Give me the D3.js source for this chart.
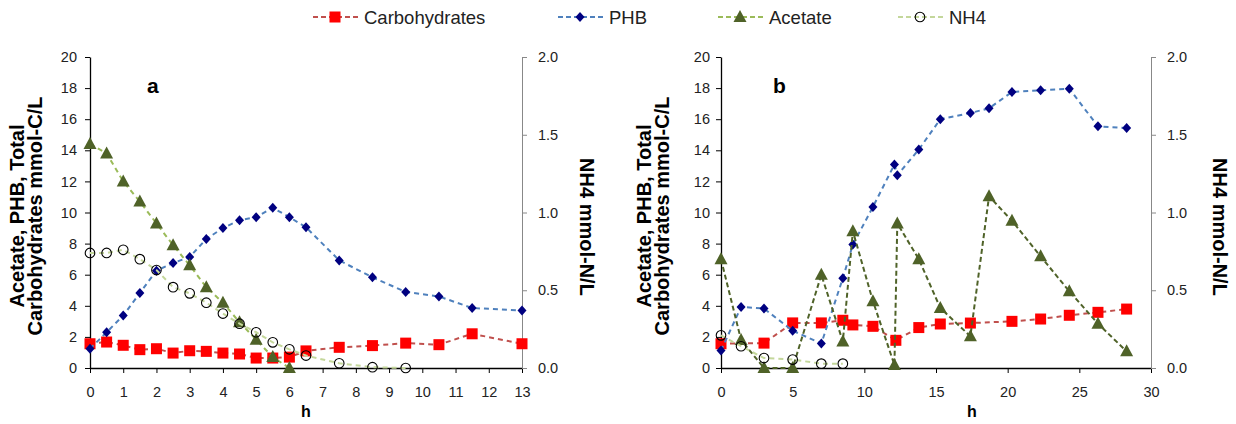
<!DOCTYPE html>
<html>
<head>
<meta charset="utf-8">
<script src="https://cdn.jsdelivr.net/npm/d3@7"></script>
<style>
  body { margin: 0; background: #fff; }
  svg { font-family: "Liberation Sans", Arial, sans-serif; }
</style>
</head>
<body>
<div id="chart"></div>
<script>
// series names for the legend
const seriesNames = ["Carbohydrates", "PHB", "Acetate", "NH4"]

// panel a, hours
const aCarbX = [0, 0.5, 1, 1.5, 2, 2.5, 3, 3.5, 4, 4.5, 5, 5.5, 6, 6.5, 7.5, 8.5, 9.5, 10.5, 11.5, 13]
const aCarbY = [1.56, 1.67, 1.46, 1.18, 1.24, 0.96, 1.11, 1.07, 0.96, 0.9, 0.64, 0.64, 0.7, 1.1, 1.33, 1.44, 1.6, 1.5, 2.2, 1.56]
const aPhbX = [0, 0.5, 1, 1.5, 2, 2.5, 3, 3.5, 4, 4.5, 5, 5.5, 6, 6.5, 7.5, 8.5, 9.5, 10.5, 11.5, 13]
const aPhbY = [1.24, 2.3, 3.37, 4.82, 6.26, 6.75, 7.14, 8.3, 9.0, 9.5, 9.7, 10.3, 9.7, 9.05, 6.92, 5.83, 4.89, 4.6, 3.86, 3.69]
const aAcX = [0, 0.5, 1, 1.5, 2, 2.5, 3, 3.5, 4, 4.5, 5, 5.5, 6]
const aAcY = [14.4, 13.8, 12.0, 10.7, 9.3, 7.9, 6.6, 5.2, 4.2, 2.94, 1.82, 0.7, 0]
const aNh4X = [0, 0.5, 1, 1.5, 2, 2.5, 3, 3.5, 4, 4.5, 5, 5.5, 6, 6.5, 7.5, 8.5, 9.5]
const aNh4Y = [0.74, 0.74, 0.76, 0.70, 0.63, 0.52, 0.48, 0.42, 0.35, 0.285, 0.23, 0.165, 0.12, 0.08, 0.03, 0.005, 0]

// panel b, hours
const bCarbX = [0, 3, 5, 7, 8.5, 9.2, 10.6, 12.2, 13.8, 15.3, 17.4, 20.3, 22.3, 24.3, 26.3, 28.3]
const bCarbY = [1.56, 1.6, 2.9, 2.9, 3.07, 2.77, 2.68, 1.78, 2.6, 2.83, 2.89, 3.0, 3.15, 3.39, 3.58, 3.79]
const bPhbX = [0, 1.4, 3, 5, 7, 8.5, 9.2, 10.6, 12.1, 12.3, 13.8, 15.3, 17.4, 18.7, 20.3, 22.3, 24.3, 26.3, 28.3]
const bPhbY = [1.12, 3.93, 3.82, 2.4, 1.57, 5.77, 7.94, 10.36, 13.09, 12.4, 14.05, 16.0, 16.4, 16.7, 17.75, 17.86, 17.96, 15.54, 15.43]
const bAcX = [0, 1.4, 3, 5, 7, 8.5, 9.2, 10.6, 12.1, 12.3, 13.8, 15.3, 17.4, 18.7, 20.3, 22.3, 24.3, 26.3, 28.3]
const bAcY = [7.0, 1.8, 0, 0, 6.0, 1.7, 8.8, 4.3, 0.2, 9.3, 7.0, 3.86, 2.04, 11.04, 9.47, 7.18, 4.93, 2.85, 1.07]
const bNh4X = [0, 1.4, 3, 5, 7, 8.5]
const bNh4Y = [0.21, 0.14, 0.064, 0.054, 0.028, 0.028]

const leftTicks = d3.range(0, 21, 2)
const rightTicks = [0, 0.5, 1.0, 1.5, 2.0]

const svg = d3.select("#chart").append("svg")
  .attr("width", 1236)
  .attr("height", 424)

const zip = (xs, ys) => xs.map((x, i) => ({ x: x, y: ys[i] }))

const styles = {
  carb: { line: "#C0504D", dash: "5,4" },
  phb: { line: "#4F81BD", dash: "5,4" },
  acA: { line: "#9BBB59", dash: "5,4" },
  acB: { line: "#4F6228", dash: "5,3" },
  nh4: { line: "#C4D79B", dash: "5,4" }
}

// marker drawing
const drawMarker = (g, kind, x, y) => {
  if (kind === "square") {
    g.append("rect").attr("x", x - 5.5).attr("y", y - 5.5).attr("width", 11).attr("height", 11)
      .attr("fill", "#FF0000")
  } else if (kind === "diamond") {
    g.append("path").attr("d", `M${x},${y - 5}L${x + 4.5},${y}L${x},${y + 5}L${x - 4.5},${y}Z`)
      .attr("fill", "#000080")
  } else if (kind === "triangle") {
    g.append("path").attr("d", `M${x},${y - 7}L${x + 6.5},${y + 5}L${x - 6.5},${y + 5}Z`)
      .attr("fill", "#4F6228")
  } else {
    g.append("circle").attr("cx", x).attr("cy", y).attr("r", 4.8)
      .attr("fill", "none").attr("stroke", "#000").attr("stroke-width", 1.1)
  }
}

const drawPanel = (p) => {
  const x = d3.scaleLinear().domain([0, p.xMax]).range([p.left, p.right])
  const yL = d3.scaleLinear().domain([0, 20]).range([368, 57])
  const yR = d3.scaleLinear().domain([0, 2]).range([368, 57])
  const g = svg.append("g")

  // axes
  const xAxis = g.append("g").attr("transform", `translate(0,368)`)
    .call(d3.axisBottom(x).tickValues(p.xTicks).tickSize(5).tickSizeOuter(0).tickPadding(14))
  xAxis.select(".domain").attr("stroke", "#000").attr("stroke-width", 1.3)
  xAxis.selectAll("text").style("font-size", "14.5px").attr("fill", "#222")

  const yAxisL = g.append("g").attr("transform", `translate(${p.left},0)`)
    .call(d3.axisLeft(yL).tickValues(leftTicks).tickSize(5).tickSizeOuter(0).tickPadding(p.padL))
  yAxisL.select(".domain").attr("stroke", "#000").attr("stroke-width", 1.3)
  yAxisL.selectAll("text").style("font-size", "14.5px").attr("fill", "#222")

  const yAxisR = g.append("g").attr("transform", `translate(${p.right},0)`)
    .call(d3.axisRight(yR).tickValues(rightTicks).tickFormat(d3.format(".1f")).tickSize(5).tickSizeOuter(0).tickPadding(11))
  yAxisR.select(".domain").attr("stroke", "#888")
  yAxisR.selectAll(".tick line").attr("stroke", "#888")
  yAxisR.selectAll("text").style("font-size", "14.5px").attr("fill", "#222")

  // lines + markers
  const series = [
    { data: zip(p.carbX, p.carbY), y: yL, st: styles.carb, m: "square" },
    { data: zip(p.phbX, p.phbY), y: yL, st: styles.phb, m: "diamond" },
    { data: zip(p.acX, p.acY), y: yL, st: p.acStyle, m: "triangle" },
    { data: zip(p.nh4X, p.nh4Y), y: yR, st: styles.nh4, m: "circle" }
  ]
  series.forEach(s => {
    const line = d3.line().x(d => x(d.x)).y(d => s.y(d.y))
    g.append("path").datum(s.data).attr("d", line)
      .attr("fill", "none").attr("stroke", s.st.line).attr("stroke-width", 2)
      .attr("stroke-dasharray", s.st.dash)
    s.data.forEach(d => drawMarker(g, s.m, x(d.x), s.y(d.y)))
  })

  // titles
  g.append("text").attr("x", p.letterX).attr("y", 93).text(p.letter)
    .style("font-size", "21px").style("font-weight", "bold")
  g.append("text").attr("x", p.hX).attr("y", 417).attr("text-anchor", "middle")
    .text("h").style("font-size", "16px").style("font-weight", "bold")

  const yt = g.append("text").attr("transform", `translate(${p.titleX},216) rotate(-90)`)
    .attr("text-anchor", "middle").style("font-size", "20px").style("font-weight", "bold")
  yt.append("tspan").attr("x", 0).attr("dy", 0).text("Acetate, PHB, Total")
  yt.append("tspan").attr("x", 0).attr("dy", 18).text("Carbohydrates mmol-C/L")

  g.append("text").attr("transform", `translate(${p.rTitleX},227) rotate(90)`)
    .attr("text-anchor", "middle").style("font-size", "20px").style("font-weight", "bold")
    .text("NH4 mmol-N/L")
}

drawPanel({
  left: 90, right: 522, xMax: 13, xTicks: d3.range(0, 14), padL: 8,
  carbX: aCarbX, carbY: aCarbY, phbX: aPhbX, phbY: aPhbY,
  acX: aAcX, acY: aAcY, nh4X: aNh4X, nh4Y: aNh4Y, acStyle: styles.acA,
  letter: "a", letterX: 147, hX: 306, titleX: 24, rTitleX: 580
})

drawPanel({
  left: 721, right: 1151, xMax: 30, xTicks: d3.range(0, 31, 5), padL: 6,
  carbX: bCarbX, carbY: bCarbY, phbX: bPhbX, phbY: bPhbY,
  acX: bAcX, acY: bAcY, nh4X: bNh4X, nh4Y: bNh4Y, acStyle: styles.acB,
  letter: "b", letterX: 773, hX: 972, titleX: 651, rTitleX: 1213
})

// legend
const legendX = [313, 558, 718, 898]
const legendKinds = ["square", "diamond", "triangle", "circle"]
const legendStyles = [styles.carb, styles.phb, styles.acA, styles.nh4]
const lg = svg.append("g")
seriesNames.forEach((name, i) => {
  const x0 = legendX[i]
  lg.append("line").attr("x1", x0).attr("x2", x0 + 46).attr("y1", 17).attr("y2", 17)
    .attr("stroke", legendStyles[i].line).attr("stroke-width", 2).attr("stroke-dasharray", "5,3")
  drawMarker(lg, legendKinds[i], x0 + 22, 17)
  lg.append("text").attr("x", x0 + 51).attr("y", 24).text(name)
    .style("font-size", "18.5px").attr("fill", "#222")
})
</script>
</body>
</html>
